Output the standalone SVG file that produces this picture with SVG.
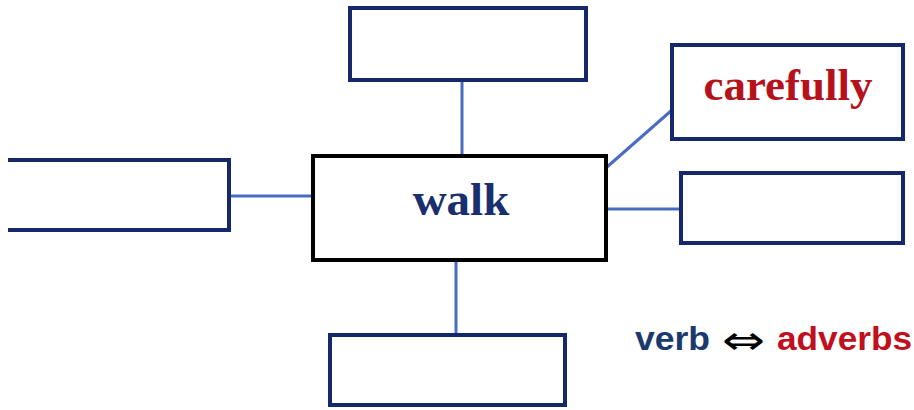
<svg xmlns="http://www.w3.org/2000/svg" width="914" height="410" viewBox="0 0 914 410">
<style>
.box{fill:#fff;stroke:#15286a;stroke-width:4}
.main{fill:#fff;stroke:#000;stroke-width:4}
.con{stroke:#4a6cc0;stroke-width:3;fill:none}
.serif{font-family:"Liberation Serif","Times New Roman",serif;font-weight:bold}
.sans{font-family:"Liberation Sans",Arial,sans-serif;font-weight:bold}
</style>
<rect width="914" height="410" fill="#fff"/>
<g id="connectors">
<line class="con" x1="462" y1="80" x2="462" y2="156"/>
<line class="con" x1="607" y1="167" x2="672" y2="110"/>
<line class="con" x1="606" y1="209" x2="681" y2="209"/>
<line class="con" x1="229" y1="196" x2="313" y2="196"/>
<line class="con" x1="456" y1="260" x2="456" y2="335"/>
</g>
<g id="node-top"><rect class="box" x="350" y="8" width="236" height="72"/></g>
<g id="node-walk"><rect class="main" x="313" y="156" width="293" height="104"/>
<text class="serif" x="461" y="215" font-size="47" fill="#1a2f6e" text-anchor="middle">walk</text></g>
<g id="node-carefully"><rect class="box" x="672" y="45" width="231" height="94"/>
<text class="serif" x="788" y="100" font-size="45" fill="#b5121b" text-anchor="middle">carefully</text></g>
<g id="node-right"><rect class="box" x="681" y="173" width="222" height="70"/></g>
<g id="node-left"><path class="box" d="M8 160 H229 V230 H8"/></g>
<g id="node-bottom"><rect class="box" x="330" y="335" width="235" height="70"/></g>
<g id="legend">
<text class="sans" x="635" y="350" font-size="34" fill="#1a3a6e" textLength="75" lengthAdjust="spacingAndGlyphs">verb</text>
<text x="722" y="354" font-size="40" fill="#000" font-family="DejaVu Sans,sans-serif" textLength="43" lengthAdjust="spacingAndGlyphs">⇔</text>
<text class="sans" x="777" y="350" font-size="34" fill="#c0101e" textLength="135" lengthAdjust="spacingAndGlyphs">adverbs</text>
</g>
</svg>
